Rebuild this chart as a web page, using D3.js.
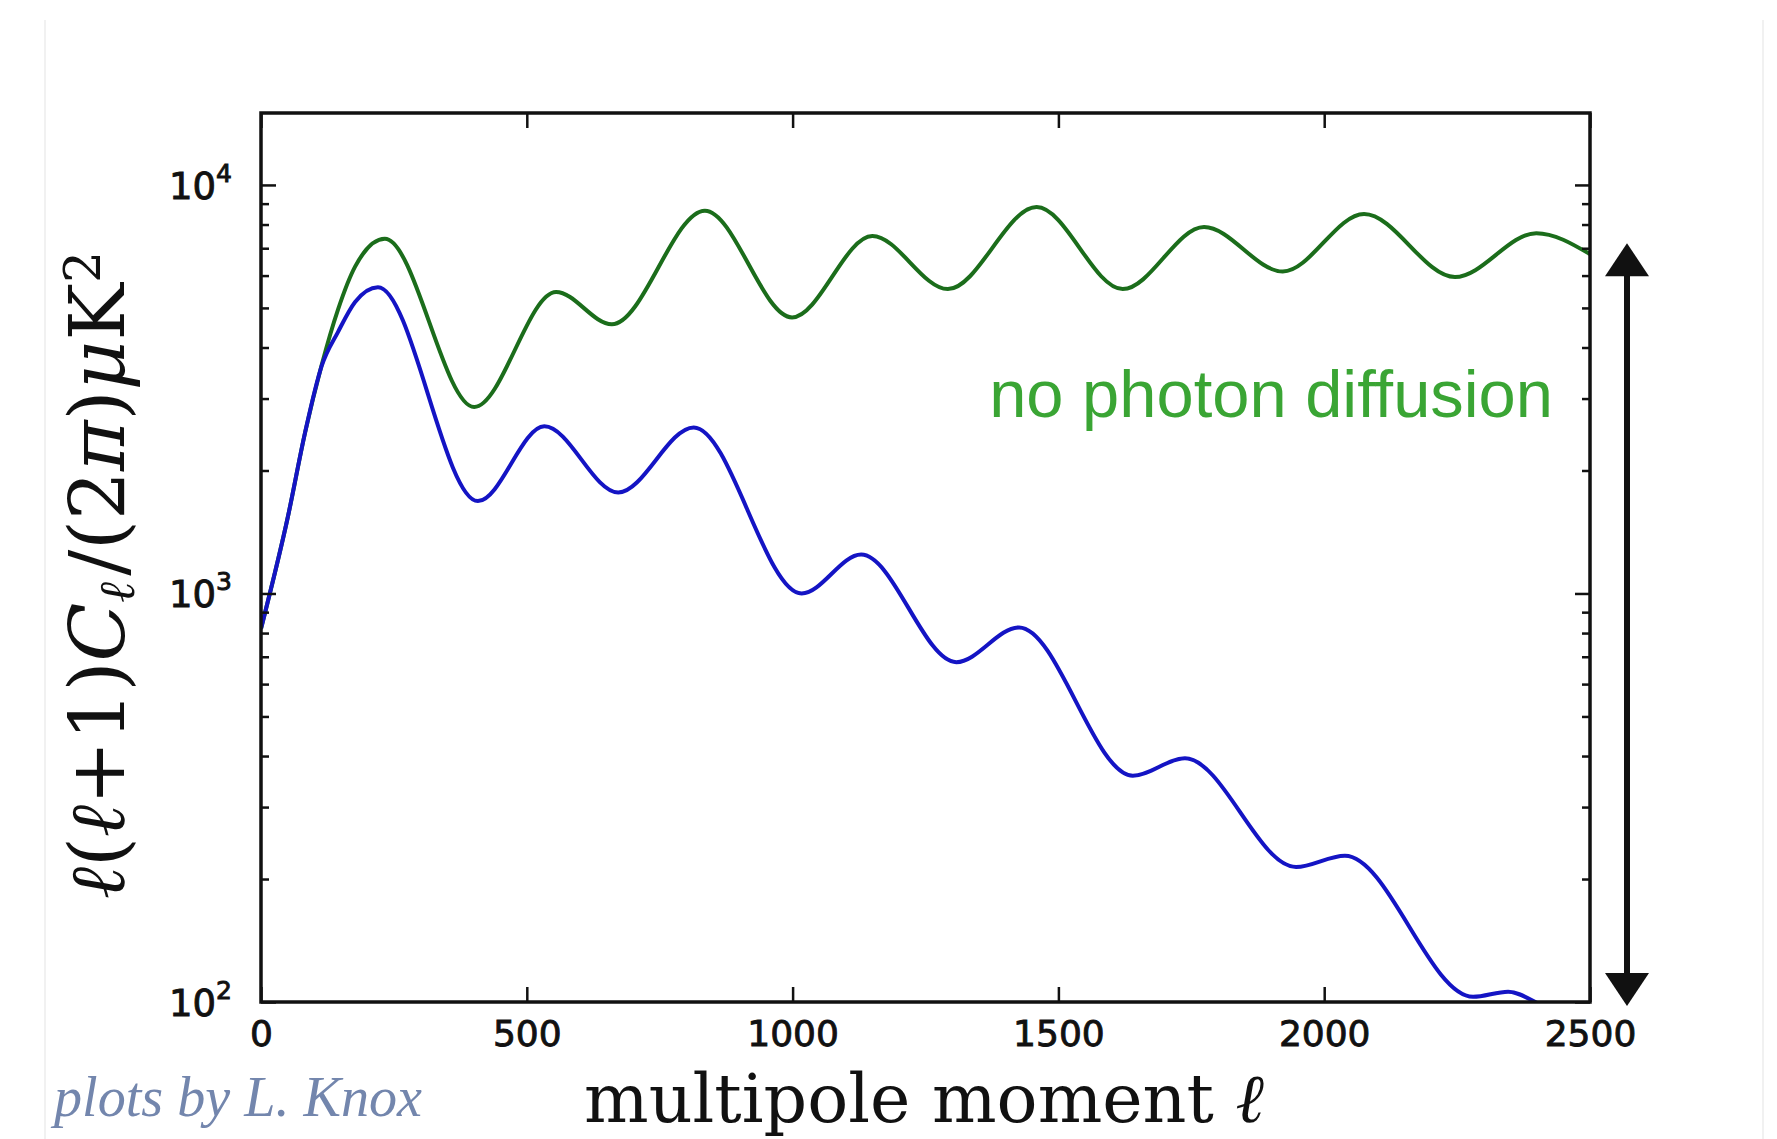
<!DOCTYPE html>
<html>
<head>
<meta charset="utf-8">
<script src="https://cdn.jsdelivr.net/npm/d3@7"></script>
<style>
  body { margin: 0; background: #fff; }
  svg { display: block; }
</style>
</head>
<body>
<div id="chart"></div>
<script>
// spectrum with photon diffusion (blue)
var diffusion_ell = [0, 51, 83, 114, 145, 177, 220, 408, 533, 672, 814, 1017, 1129, 1308, 1426, 1640, 1738, 1947, 2039, 2280, 2346, 2397, 2430];
var diffusion_cl  = [820, 1550, 2480, 3600, 4370, 5170, 5620, 1683, 2565, 1767, 2550, 1000, 1245, 679, 826, 358, 395, 214, 228, 103, 106, 100, 94];
// spectrum without photon diffusion (green)
var nodiff_ell = [0, 51, 83, 114, 145, 177, 233, 401, 555, 660, 835, 999, 1150, 1292, 1459, 1621, 1774, 1922, 2075, 2246, 2399, 2500];
var nodiff_cl  = [820, 1550, 2480, 3620, 4960, 6310, 7380, 2860, 5470, 4560, 8650, 4740, 7500, 5560, 8830, 5560, 7890, 6140, 8490, 5950, 7620, 6770];

var x_ticks = [0, 500, 1000, 1500, 2000, 2500];
var y_major = [100, 1000, 10000];
var y_minor = [200, 300, 400, 500, 600, 700, 800, 900, 2000, 3000, 4000, 5000, 6000, 7000, 8000, 9000];

var chart_width = 1777, chart_height = 1139;
var plot_left = 261, plot_right = 1590, plot_top = 113, plot_bottom = 1002;

var svg = d3.select("#chart").append("svg").attr("width", chart_width).attr("height", chart_height);

// faint frame of the original slide
svg.append("line").attr("x1", 45).attr("x2", 45).attr("y1", 20).attr("y2", chart_height)
    .attr("stroke", "#f1f1f1").attr("stroke-width", 2);
svg.append("line").attr("x1", 1763).attr("x2", 1763).attr("y1", 20).attr("y2", chart_height)
    .attr("stroke", "#f1f1f1").attr("stroke-width", 2);

var x = d3.scaleLinear().domain([0, 2500]).range([plot_left, plot_right]);
var y = d3.scaleLog().domain([100, 15000]).range([plot_bottom, plot_top]);

svg.append("clipPath").attr("id", "plot-clip").append("rect")
    .attr("x", plot_left).attr("y", plot_top)
    .attr("width", plot_right - plot_left).attr("height", plot_bottom - plot_top);

var line = d3.line()
    .x(function(d){ return x(d[0]); })
    .y(function(d){ return y(d[1]); })
    .curve(d3.curveMonotoneX);

var blue_pts = diffusion_ell.map(function(l, i){ return [l, diffusion_cl[i]]; });
var green_pts = nodiff_ell.map(function(l, i){ return [l, nodiff_cl[i]]; });

svg.append("path").datum(green_pts).attr("d", line)
    .attr("fill", "none").attr("stroke", "#1b6d1b").attr("stroke-width", 4)
    .attr("clip-path", "url(#plot-clip)");
svg.append("path").datum(blue_pts).attr("d", line)
    .attr("fill", "none").attr("stroke", "#1414c4").attr("stroke-width", 4)
    .attr("clip-path", "url(#plot-clip)");

// axes, ticks pointing inward on all four sides
function style_axis(g){
  g.select(".domain").remove();
  g.selectAll(".tick line").attr("stroke", "#111").attr("stroke-width", 2.5);
}
svg.append("g").attr("transform", "translate(0," + plot_bottom + ")")
    .call(d3.axisBottom(x).tickValues(x_ticks).tickSizeInner(-15).tickSizeOuter(0).tickPadding(18)
      .tickFormat(function(d){ return String(d); }))
    .call(style_axis)
    .selectAll("text").attr("font-family", "DejaVu Sans").attr("font-size", 36).attr("fill", "#111")
    .attr("stroke", "#111").attr("stroke-width", 0.9);
svg.append("g").attr("transform", "translate(0," + plot_top + ")")
    .call(d3.axisTop(x).tickValues(x_ticks).tickSizeInner(-15).tickSizeOuter(0).tickFormat(""))
    .call(style_axis);
svg.append("g").attr("transform", "translate(" + plot_left + ",0)")
    .call(d3.axisLeft(y).tickValues(y_major).tickSizeInner(-15).tickSizeOuter(0).tickFormat(""))
    .call(style_axis);
svg.append("g").attr("transform", "translate(" + plot_left + ",0)")
    .call(d3.axisLeft(y).tickValues(y_minor).tickSizeInner(-8).tickSizeOuter(0).tickFormat(""))
    .call(style_axis);
svg.append("g").attr("transform", "translate(" + plot_right + ",0)")
    .call(d3.axisRight(y).tickValues(y_major).tickSizeInner(-15).tickSizeOuter(0).tickFormat(""))
    .call(style_axis);
svg.append("g").attr("transform", "translate(" + plot_right + ",0)")
    .call(d3.axisRight(y).tickValues(y_minor).tickSizeInner(-8).tickSizeOuter(0).tickFormat(""))
    .call(style_axis);

// y tick labels as 10^n
y_major.forEach(function(v){
  var t = svg.append("text").attr("x", 232).attr("y", y(v) + 14)
      .attr("text-anchor", "end").attr("font-family", "DejaVu Sans").attr("font-size", 37).attr("fill", "#111")
      .attr("stroke", "#111").attr("stroke-width", 0.9);
  t.append("tspan").text("10");
  t.append("tspan").attr("font-size", 25).attr("dy", -17).text(Math.round(Math.log10(v)));
});

svg.append("rect").attr("x", plot_left).attr("y", plot_top)
    .attr("width", plot_right - plot_left).attr("height", plot_bottom - plot_top)
    .attr("fill", "none").attr("stroke", "#111").attr("stroke-width", 3.5);

// double arrow at the right
var ax = plot_right + 37, a_top = y(7200), a_bot = y(100) + 4;
svg.append("line").attr("x1", ax).attr("x2", ax).attr("y1", a_top + 20).attr("y2", a_bot - 20)
    .attr("stroke", "#111").attr("stroke-width", 6);
svg.append("path").attr("d", "M" + ax + "," + a_top + "L" + (ax + 22) + "," + (a_top + 33) + "L" + (ax - 22) + "," + (a_top + 33) + "Z")
    .attr("fill", "#111");
svg.append("path").attr("d", "M" + ax + "," + a_bot + "L" + (ax + 22) + "," + (a_bot - 33) + "L" + (ax - 22) + "," + (a_bot - 33) + "Z")
    .attr("fill", "#111");

function fit(sel, w){
  var len = sel.node().getComputedTextLength();
  var fs = parseFloat(sel.attr("font-size"));
  sel.attr("font-size", fs * w / len);
}

var label = svg.append("text").attr("x", 1553).attr("y", 417).attr("text-anchor", "end")
    .attr("font-family", "Liberation Sans, Arial").attr("font-size", 60).attr("fill", "#3aa534")
    .text("no photon diffusion");
fit(label, 564);

var xt = svg.append("text").attr("x", 584).attr("y", 1122)
    .attr("font-family", "DejaVu Serif").attr("font-size", 60).attr("fill", "#111");
xt.append("tspan").text("multipole moment ");
xt.append("tspan").attr("font-style", "italic").text("ℓ");
fit(xt, 680);

var yt = svg.append("text").attr("transform", "translate(124,899) rotate(-90)")
    .attr("font-family", "DejaVu Serif").attr("font-size", 56).attr("fill", "#111");
yt.append("tspan").attr("font-style", "italic").text("ℓ");
yt.append("tspan").text("(");
yt.append("tspan").attr("font-style", "italic").text("ℓ");
yt.append("tspan").text("+1)");
yt.append("tspan").attr("font-style", "italic").text("C");
yt.append("tspan").attr("font-style", "italic").attr("font-size", "0.65em").attr("dy", 10).text("ℓ");
yt.append("tspan").attr("dy", -10).attr("dx", 6).text("/(2");
yt.append("tspan").attr("font-style", "italic").text("π");
yt.append("tspan").text(")");
yt.append("tspan").attr("font-style", "italic").text("μ");
yt.append("tspan").text("K");
yt.append("tspan").attr("font-size", "0.65em").attr("dy", -24).text("2");
fit(yt, 642);

var credit = svg.append("text").attr("x", 54).attr("y", 1116)
    .attr("font-family", "Liberation Serif, DejaVu Serif").attr("font-style", "italic")
    .attr("font-size", 44).attr("fill", "#7386ad")
    .text("plots by L. Knox");
fit(credit, 368);
</script>
</body>
</html>
